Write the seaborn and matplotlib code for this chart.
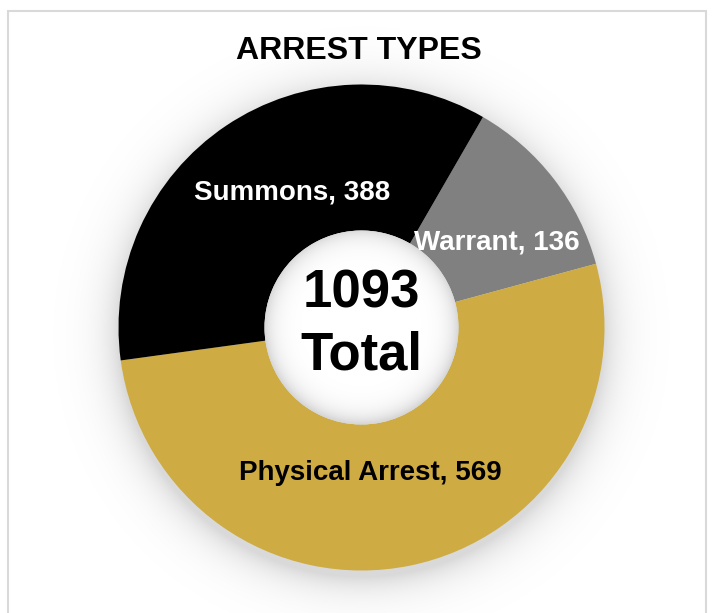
import matplotlib
matplotlib.use("Agg")
import matplotlib.pyplot as plt
from matplotlib.patches import Circle, Rectangle
import numpy as np
import seaborn as sns

# Daten
categories = ["Warrant", "Physical Arrest", "Summons"]
counts = [136, 569, 388]
slice_colors = ["#808080", "#CFAB43", "#000000"]
label_colors = ["white", "black", "white"]
title = "ARREST TYPES"

sns.set_theme(style="white")
plt.rcParams["font.family"] = ["Liberation Sans", "DejaVu Sans"]

W, H = 714, 613
fig = plt.figure(figsize=(W / 100, H / 100), dpi=100)
ax = fig.add_axes([0, 0, 1, 1])

# Rahmen
fig.patches.append(Rectangle((8 / W, -0.05), 698 / W, 1 - 11 / H + 0.05,
                             transform=fig.transFigure, fill=False,
                             edgecolor="#D9D9D9", linewidth=1.5))

cx, cy = 361.5, H - 327.5
R = 243
r_hole = 97


def glow(dist, strength, scale):
    # RGBA-Bild, schwarz mit abnehmender Deckkraft
    img = np.zeros(dist.shape + (4,))
    img[..., 3] = strength * np.exp(-np.clip(dist, 0, None) / scale)
    return img


# weicher Schatten ausserhalb
xs = np.arange(0, W + 1)
ys = np.arange(0, H + 1)
gx, gy = np.meshgrid(xs, ys)
d_out = np.hypot(gx - cx, gy - (cy - 7)) - R
ax.imshow(glow(d_out, 0.15, 18), extent=(0, W, 0, H), origin="lower",
          zorder=1, interpolation="bilinear")

wedges, _ = ax.pie(counts, colors=slice_colors, startangle=60,
                   counterclock=False, center=(cx, cy), radius=R,
                   wedgeprops=dict(width=R - r_hole, linewidth=0),
                   frame=True)
for w in wedges:
    w.set_zorder(2)

# Loch mit Innenschatten
hole = Circle((cx, cy), r_hole, color="white", linewidth=0, zorder=3)
ax.add_patch(hole)
d_in = r_hole - np.hypot(gx - cx, gy - (cy + 1))
im = ax.imshow(glow(d_in, 0.16, 10), extent=(0, W, 0, H), origin="lower",
               zorder=4, interpolation="bilinear")
im.set_clip_path(hole)

ax.set_xlim(0, W)
ax.set_ylim(0, H)
ax.set_aspect("equal")
ax.axis("off")

# Beschriftungen
label_pos = [(496.5, H - 242), (370.5, H - 473), (292, H - 193)]
for name, val, col, (x, y) in zip(categories, counts, label_colors, label_pos):
    ax.text(x, y, f"{name}, {val}", color=col, fontsize=20, fontweight="bold",
            ha="center", va="center", zorder=5)

ax.text(cx, H - 293, f"{sum(counts)}", fontsize=38, fontweight="bold",
        ha="center", va="center", color="black", zorder=5)
ax.text(cx, H - 355, "Total", fontsize=38, fontweight="bold",
        ha="center", va="center", color="black", zorder=5)

ax.text(358.5, H - 51, title, fontsize=23, fontweight="bold",
        ha="center", va="center", color="black", zorder=5)

fig.savefig("out.png", dpi=100, facecolor="white")
